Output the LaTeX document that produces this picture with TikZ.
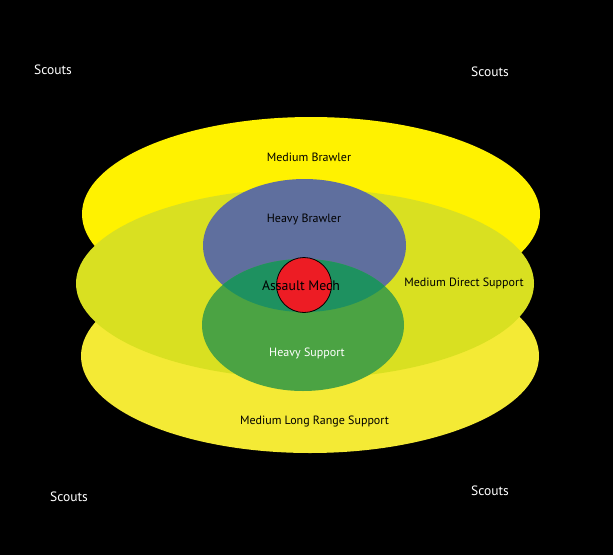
\documentclass[tikz,border=0pt]{standalone}
\usepackage{fontspec}
\setmainfont{PT Sans}
\usepackage{xcolor}
\usetikzlibrary{positioning}
\definecolor{brawlyellow}{HTML}{FFF200}
\definecolor{rangeyellow}{HTML}{F4EA35}
\definecolor{directolive}{HTML}{D9E021}
\definecolor{heavyblue}{HTML}{5F6F9E}
\definecolor{heavygreen}{HTML}{4BA343}
\definecolor{overlapteal}{HTML}{1E9160}
\definecolor{assaultred}{HTML}{ED1C24}

\begin{document}
\begin{tikzpicture}[x=1pt, y=-1pt,
    lbl/.style={font=\fontsize{12}{14}\selectfont, text=black},
    scout/.style={font=\fontsize{13.5}{15}\selectfont, text=white}]
    \fill[black] (0,0) rectangle (613,555);
    \useasboundingbox (0,0) rectangle (613,555);
    % medium rings
    \fill[brawlyellow] (311,214) ellipse [x radius=229, y radius=97];
    \fill[rangeyellow] (310,356) ellipse [x radius=229, y radius=97];
    \fill[directolive] (305,283.5) ellipse [x radius=229, y radius=95];
    % heavy rings
    \fill[heavyblue] (304.5,245.5) ellipse [x radius=101.5, y radius=66.5];
    \fill[heavygreen] (303,325) ellipse [x radius=101, y radius=66];
    \begin{scope}
        \clip (304.5,245.5) ellipse [x radius=101.5, y radius=66.5];
        \fill[overlapteal] (303,325) ellipse [x radius=101, y radius=66];
    \end{scope}
    \draw[fill=assaultred, line width=0.8] (304,285) circle [radius=27.5];
    % labels
    \node[lbl] (brawler) at (309,157) {Medium Brawler};
    \node[lbl] (heavybrawler) at (304,219) {Heavy Brawler};
    \node[lbl, font=\fontsize{13.8}{16}\selectfont] (assault) at (301,286) {Assault Mech};
    \node[lbl] (direct) at (464,283) {Medium Direct Support};
    \node[lbl, text=white] (heavysupport) at (307,353) {Heavy Support};
    \node[lbl] (longrange) at (314.5,421) {Medium Long Range Support};
    \foreach \name/\x/\y in {scoutTL/53/70, scoutTR/490/72, scoutBL/69/497, scoutBR/490/491}
        \node[scout] (\name) at (\x,\y) {Scouts};
\end{tikzpicture}
\end{document}
